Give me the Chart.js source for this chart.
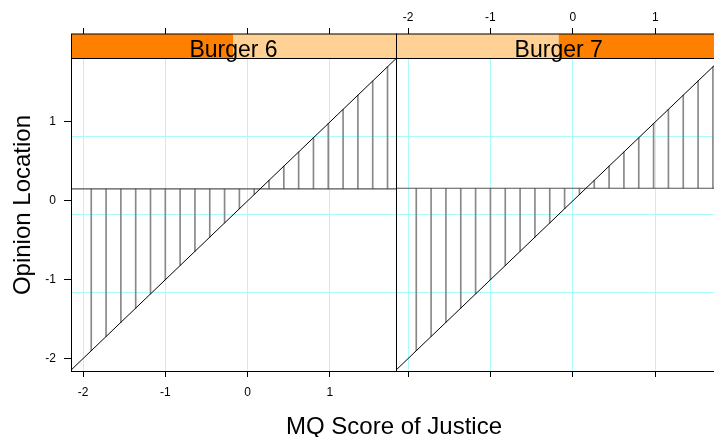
<!DOCTYPE html>
<html>
<head>
<meta charset="utf-8">
<script src="https://cdn.jsdelivr.net/npm/chart.js@4.4.1/dist/chart.umd.min.js"></script>
<style>
  body { margin: 0; width: 714px; height: 437px; overflow: hidden; background: #fff; position: relative;
         font-family: "Liberation Sans", Arial, sans-serif; }
  canvas { position: absolute; top: 0; }
  #c6 { left: 0; }
  #c7 { left: 390px; }
  #xlab { position: absolute; left: 0; width: 788px; top: 414px; text-align: center;
          font-size: 24px; line-height: 24px; white-space: nowrap; }
  #ylab { position: absolute; left: -128px; top: 193px; width: 300px; height: 24px; text-align: center;
          font-size: 24px; line-height: 24px; white-space: nowrap; transform: rotate(-90deg); }
</style>
</head>
<body>
<canvas id="c6" width="400" height="437"></canvas>
<canvas id="c7" width="340" height="437"></canvas>
<div id="xlab">MQ Score of Justice</div>
<div id="ylab">Opinion Location</div>
<script>
// data
const panelNames = ['Burger 6', 'Burger 7'];
const justiceScores = [-1.9, -1.72, -1.54, -1.36, -1.18, -1.0, -0.82, -0.64, -0.46, -0.28, -0.1,
                       0.08, 0.26, 0.44, 0.62, 0.8, 0.98, 1.16, 1.34, 1.52, 1.7];
const opinionLocation = [0.152, 0.16];
const identityEnds = [-2.4, 2.1];
const xTicks = [-2, -1, 0, 1];
const yTicks = [-2, -1, 0, 1];
const yGridLines = [0.816, -0.169, -1.157];
const xRange = [-2.146, 1.803];
const yRange = [-2.157, 1.811];

const FONT = '"Liberation Sans", Arial, sans-serif';
const CYAN = '#a8fcfc';
const DARK = '#ff8000';
const LIGHT = '#ffd194';

// strip + panel frame
const panelDecor = {
  id: 'panelDecor',
  afterDraw(chart, args, opts) {
    const ctx = chart.ctx;
    const a = chart.chartArea;
    const mid = (a.left + a.right) / 2;
    const top = 34;
    ctx.save();
    ctx.fillStyle = opts.darkLeft ? DARK : LIGHT;
    ctx.fillRect(a.left, top, mid - a.left, a.top - top);
    ctx.fillStyle = opts.darkLeft ? LIGHT : DARK;
    ctx.fillRect(mid, top, a.right - mid, a.top - top);
    ctx.strokeStyle = '#000';
    ctx.lineWidth = 1;
    ctx.strokeRect(a.left + 0.5, top, a.right - a.left, a.top - top + 0.5);
    ctx.fillStyle = '#000';
    ctx.font = '23px ' + FONT;
    ctx.textAlign = 'center';
    ctx.textBaseline = 'alphabetic';
    ctx.fillText(opts.label, mid, 57);
    ctx.strokeRect(a.left + 0.5, a.top + 0.5, a.right - a.left, a.bottom - a.top);
    ctx.restore();
  }
};

function setTicks(values) {
  return scale => { scale.ticks = values.map(v => ({ value: v })); };
}

function makePanel(id, i) {
  const first = i === 0;
  const loc = opinionLocation[i];
  const tickFont = { size: 12, family: FONT };
  new Chart(document.getElementById(id), {
    type: 'bar',
    data: {
      datasets: [
        {
          type: 'line',
          data: identityEnds.map(v => ({ x: v, y: v })),
          borderColor: '#000', borderWidth: 1, pointRadius: 0, fill: false
        },
        {
          type: 'line',
          data: identityEnds.map(v => ({ x: v, y: loc })),
          borderColor: '#555', borderWidth: 1.2, pointRadius: 0, fill: false
        },
        {
          type: 'bar',
          data: justiceScores.map(v => ({ x: v, y: [v, loc] })),
          backgroundColor: '#888', borderWidth: 0, barThickness: 1, grouped: false
        }
      ]
    },
    options: {
      responsive: false,
      animation: false,
      devicePixelRatio: 1,
      layout: { padding: { left: 0, right: first ? 4 : 8.6, top: 0, bottom: 0 } },
      plugins: {
        legend: { display: false },
        tooltip: { enabled: false },
        panelDecor: { label: panelNames[i], darkLeft: first }
      },
      scales: {
        x: {
          type: 'linear', position: 'bottom', min: xRange[0], max: xRange[1], offset: false,
          afterBuildTicks: setTicks(xTicks),
          afterFit: s => { s.height = 66; },
          grid: { color: CYAN, offset: false, tickColor: '#000', tickLength: 6 },
          border: { display: false },
          ticks: { display: first, font: tickFont, color: '#000', padding: 8, maxRotation: 0, autoSkip: false }
        },
        xt: {
          type: 'linear', position: 'top', min: xRange[0], max: xRange[1], offset: false,
          afterBuildTicks: setTicks(xTicks),
          afterFit: s => { s.height = 58; },
          grid: { drawOnChartArea: false, offset: false, tickColor: '#000', tickLength: 30 },
          border: { display: false },
          ticks: { display: !first, font: tickFont, color: '#000', padding: 3, maxRotation: 0, autoSkip: false }
        },
        y: {
          type: 'linear', position: 'left', min: yRange[0], max: yRange[1],
          afterBuildTicks: setTicks(yTicks),
          afterFit: s => { s.width = first ? 71 : 6; },
          grid: { drawOnChartArea: false, drawTicks: first, tickColor: '#000', tickLength: 7 },
          border: { display: false },
          ticks: { display: first, font: tickFont, color: '#000', padding: 8, autoSkip: false }
        },
        yg: {
          type: 'linear', position: 'left', min: yRange[0], max: yRange[1],
          afterBuildTicks: setTicks(yGridLines),
          afterFit: s => { s.width = 0; },
          grid: { color: CYAN, drawTicks: false },
          border: { display: false },
          ticks: { display: false }
        }
      }
    },
    plugins: [panelDecor]
  });
}

makePanel('c6', 0);
makePanel('c7', 1);
</script>
</body>
</html>
